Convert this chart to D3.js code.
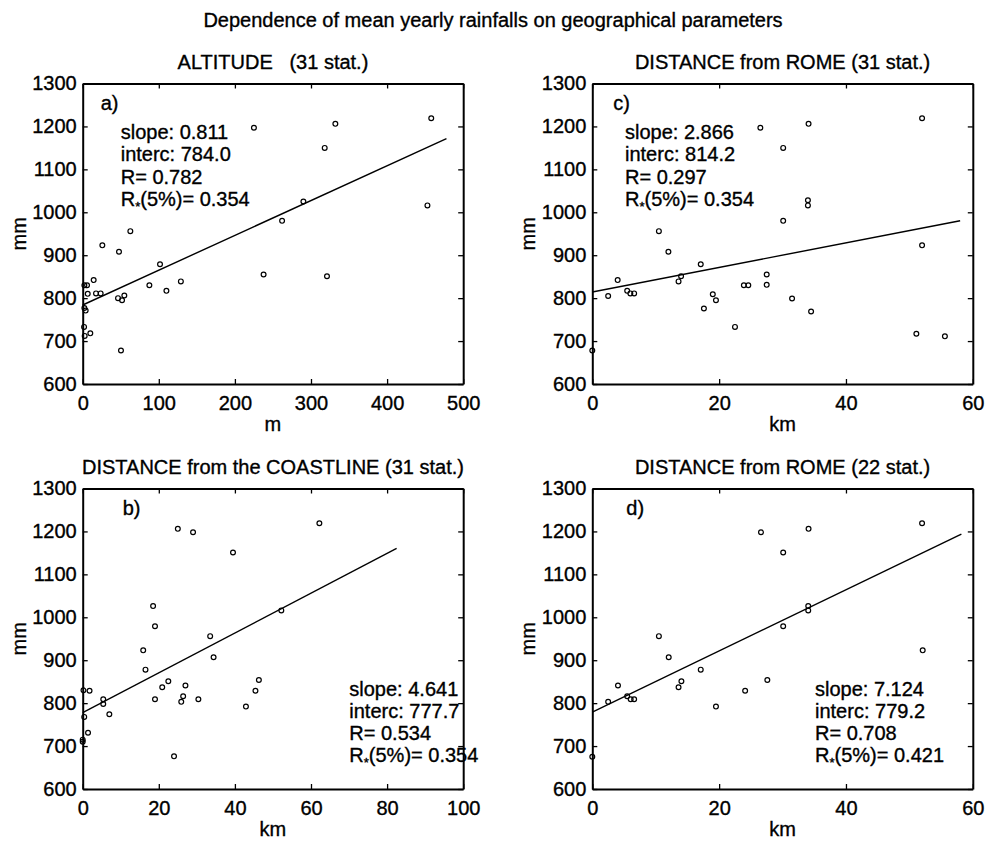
<!DOCTYPE html>
<html>
<head>
<meta charset="utf-8">
<script src="https://cdn.jsdelivr.net/npm/d3@7"></script>
<style>
  html, body { margin: 0; padding: 0; background: #fff; }
  svg { display: block; font-family: "Liberation Sans", Arial, Helvetica, sans-serif; }
  svg text { fill: #000; stroke: #000; stroke-width: 0.35px; }
  .axis text { font-size: 20px; }
  .axis path, .axis line { stroke: #000; }
</style>
</head>
<body>
<svg id="chart" width="986" height="842"></svg>
<script>
(() => {
  // rainfall (mm) per station
  const altM = [458, 225, 332, 318, 290, 453, 262, 62.6, 25.8, 47.7, 101.6, 237.7, 321, 14.4, 129, 87.6, 110, 2.2, 5.7, 6.6, 17.5, 23.6, 46.4, 54.7, 51.7, 2.2, 3.9, 1.8, 2.6, 10, 50.3];
  const altRain = [1219, 1197, 1206, 1150, 1025, 1016, 980, 956, 923, 908, 879, 855, 851, 842, 839, 830, 817, 830, 830, 810, 811, 811, 800, 806, 795, 777, 771, 733, 712, 718, 678];

  const coastKm = [25, 29.0, 39.5, 62.2, 18.5, 19.0, 52.2, 33.5, 15.9, 34.4, 16.5, 46.3, 22.5, 27.0, 20.9, 45.4, 0.2, 1.8, 26.4, 5.4, 19.0, 30.4, 25.9, 5.4, 42.9, 7.0, 0.4, 1.4, 0, 0, 24.0];
  const coastRain = [1206, 1198, 1151, 1219, 1026, 979, 1016, 956, 923, 907, 878, 854, 851, 841, 837, 829, 830, 829, 816, 809, 809, 809, 803, 798, 792, 774, 768, 731, 715, 710, 676];

  const romeKm31 = [52.0, 26.5, 34.1, 30.1, 34.0, 34.0, 30.1, 10.5, 12.0, 52.0, 17.1, 27.5, 14.0, 4.0, 13.6, 23.9, 24.6, 27.5, 5.5, 6.0, 6.6, 2.5, 19.0, 19.5, 31.5, 17.6, 34.5, 22.5, 51.1, 55.6, 0];
  const romeRain31 = [1219, 1197, 1206, 1150, 1028, 1016, 980, 956, 908, 923, 879, 855, 851, 842, 839, 830, 830, 831, 817, 811, 811, 805, 809, 795, 799, 776, 769, 733, 717, 711, 678];

  const romeKm22 = [26.6, 34.1, 52.0, 30.1, 34.05, 34.05, 30.1, 10.5, 12.05, 52.1, 17.1, 27.6, 14.05, 4.05, 13.6, 24.1, 5.5, 6.05, 6.6, 2.5, 19.5, 0];
  const romeRain22 = [1198, 1206, 1219, 1151, 1026, 1016, 979, 956, 907, 923, 878, 854, 851, 841, 837, 829, 816, 809, 809, 803, 792, 675];

  // regression results printed in each panel (a, b, c, d)
  const slopes = [0.811, 4.641, 2.866, 7.124];
  const intercs = [784.0, 777.7, 814.2, 779.2];
  const rValues = [0.782, 0.534, 0.297, 0.708];
  const rCrit = [0.354, 0.354, 0.354, 0.421];
  const fitXMax = [478, 82.5, 58, 58.2];

  const yTicks = [600, 700, 800, 900, 1000, 1100, 1200, 1300];
  const altTicks = [0, 100, 200, 300, 400, 500];
  const coastTicks = [0, 20, 40, 60, 80, 100];
  const romeTicks = [0, 20, 40, 60];

  const titles = ["ALTITUDE   (31 stat.)", "DISTANCE from the COASTLINE (31 stat.)", "DISTANCE from ROME (31 stat.)", "DISTANCE from ROME (22 stat.)"];
  const letters = ["a)", "b)", "c)", "d)"];
  const xLabels = ["m", "km", "km", "km"];

  const panels = [
    { xs: altM, ys: altRain, xTicks: altTicks, left: 82.7, top: 83.5, letter: [18, 26.5], stats: [38, 55.5] },
    { xs: coastKm, ys: coastRain, xTicks: coastTicks, left: 82.7, top: 488.5, letter: [40, 26.5], stats: [266.6, 207] },
    { xs: romeKm31, ys: romeRain31, xTicks: romeTicks, left: 592.3, top: 83.5, letter: [21, 26.5], stats: [32.7, 55.5] },
    { xs: romeKm22, ys: romeRain22, xTicks: romeTicks, left: 592.3, top: 488.5, letter: [34, 26.5], stats: [222.7, 207] },
  ];

  const W = 380.5, H = 300.5;
  const fmt = d3.format("d");
  const svg = d3.select("#chart");
  svg.append("rect").attr("width", 986).attr("height", 842).attr("fill", "#fff");

  svg.append("text")
    .attr("x", 493).attr("y", 27)
    .attr("text-anchor", "middle")
    .attr("font-size", 20)
    .text("Dependence of mean yearly rainfalls on geographical parameters");

  panels.forEach((p, i) => {
    const g = svg.append("g").attr("transform", `translate(${p.left},${p.top})`);
    const x = d3.scaleLinear().domain(d3.extent(p.xTicks)).range([0, W]);
    const y = d3.scaleLinear().domain([600, 1300]).range([H, 0]);

    g.append("g").attr("class", "axis").attr("transform", `translate(0,${H})`)
      .call(d3.axisBottom(x).tickValues(p.xTicks).tickFormat(fmt).tickSize(-5).tickSizeOuter(0).tickPadding(12));
    g.append("g").attr("class", "axis")
      .call(d3.axisTop(x).tickValues(p.xTicks).tickSize(-5).tickSizeOuter(0).tickFormat(""));
    g.append("g").attr("class", "axis")
      .call(d3.axisLeft(y).tickValues(yTicks).tickFormat(fmt).tickSize(-5).tickSizeOuter(0).tickPadding(6));
    g.append("g").attr("class", "axis").attr("transform", `translate(${W},0)`)
      .call(d3.axisRight(y).tickValues(yTicks).tickSize(-5).tickSizeOuter(0).tickFormat(""));
    g.selectAll(".axis path").attr("stroke-width", 2);
    g.selectAll(".axis line").attr("stroke-width", 1.3);

    g.append("text")
      .attr("x", W / 2).attr("y", -14.5)
      .attr("text-anchor", "middle").attr("font-size", 20)
      .style("white-space", "pre")
      .text(titles[i]);

    g.append("text")
      .attr("x", W / 2).attr("y", H + 47)
      .attr("text-anchor", "middle").attr("font-size", 20)
      .text(xLabels[i]);

    g.append("text")
      .attr("transform", `translate(-57,${H / 2}) rotate(-90)`)
      .attr("text-anchor", "middle").attr("font-size", 20)
      .text("mm");

    g.append("text")
      .attr("x", p.letter[0]).attr("y", p.letter[1])
      .attr("font-size", 20)
      .text(letters[i]);

    const line = d3.line().x((d) => x(d)).y((d) => y(intercs[i] + slopes[i] * d));
    g.append("path")
      .datum([0, fitXMax[i]])
      .attr("fill", "none").attr("stroke", "#000").attr("stroke-width", 1.4)
      .attr("d", line);

    g.selectAll("circle")
      .data(p.xs.map((v, k) => [v, p.ys[k]]))
      .join("circle")
      .attr("cx", (d) => x(d[0]))
      .attr("cy", (d) => y(d[1]))
      .attr("r", 2.4)
      .attr("fill", "none").attr("stroke", "#000").attr("stroke-width", 1.2);

    const st = g.append("g").attr("transform", `translate(${p.stats[0]},${p.stats[1]})`).attr("font-size", 20);
    st.append("text").attr("y", 0).text(`slope: ${slopes[i].toFixed(3)}`);
    st.append("text").attr("y", 22.3).text(`interc: ${intercs[i].toFixed(1)}`);
    st.append("text").attr("y", 44.6).text(`R= ${rValues[i].toFixed(3)}`);
    const rs = st.append("text").attr("y", 66.9);
    rs.append("tspan").text("R");
    rs.append("tspan").attr("font-size", 13).attr("dy", 5).text("*");
    rs.append("tspan").attr("dy", -5).text(`(5%)= ${rCrit[i].toFixed(3)}`);
  });
})();
</script>
</body>
</html>
